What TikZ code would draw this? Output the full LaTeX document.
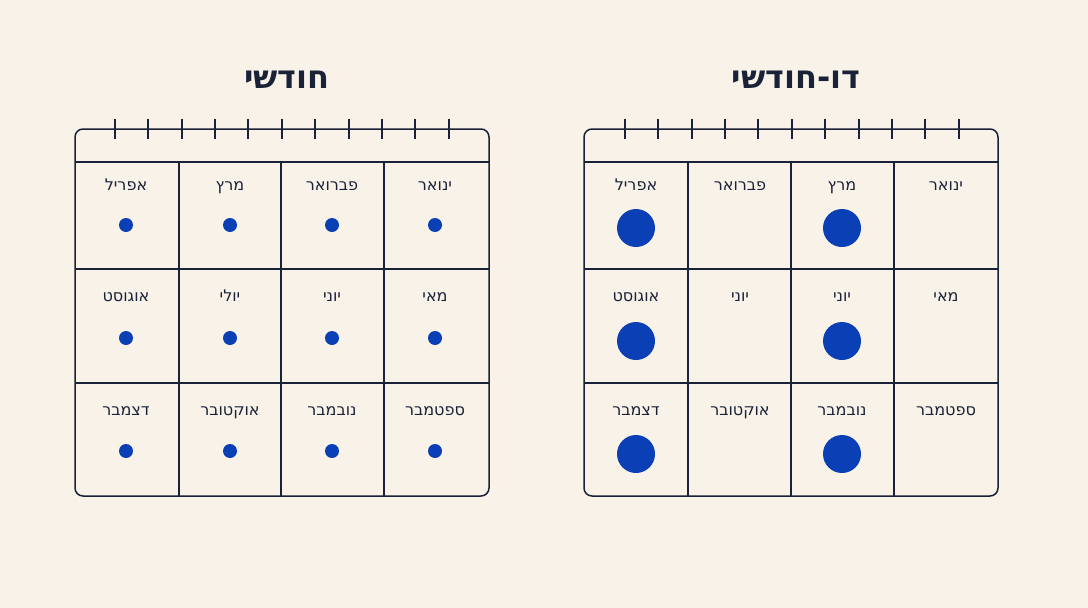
\documentclass[tikz,border=0pt]{standalone}
\usepackage{fontspec}
\setmainfont{DejaVu Sans}
\TeXXeTstate=1
\newcommand{\heb}[1]{\beginR #1\endR}
\definecolor{bgcol}{HTML}{F8F2E9}
\definecolor{ink}{HTML}{1A2238}
\definecolor{dotblue}{HTML}{0A3FB5}
\tikzset{
  month/.style={text=ink, font=\fontsize{16}{19}\selectfont, inner sep=0pt, anchor=base},
  title/.style={text=ink, font=\fontsize{32}{38}\selectfont\bfseries, inner sep=0pt, anchor=base},
  frame/.style={ink, line width=1.5pt, rounded corners=8pt},
  grid/.style={ink, line width=1.2pt},
}
\begin{document}
\begin{tikzpicture}[x=1pt,y=-1pt]
\fill[bgcol] (0,0) rectangle (1088,608);
\useasboundingbox (0,0) rectangle (1088,608);

%titles
\node[title] (tmon) at (287,88) {\heb{חודשי}};
\node[title] (tbim) at (796,88) {\heb{דו-חודשי}};

%left calendar
\draw[frame] (75,129) rectangle (489,496);
\draw[grid] (75,162) -- (489,162);
\draw[grid] (75,269) -- (489,269);
\draw[grid] (75,383) -- (489,383);
\foreach \x in {179,281,384} \draw[grid] (\x,162) -- (\x,496);
\foreach \x in {115,148,182,215,248,282,315,349,382,415,449} \draw[grid,line width=1.5pt] (\x,119) -- (\x,139);

%right calendar
\draw[frame] (584,129) rectangle (998,496);
\draw[grid] (584,162) -- (998,162);
\draw[grid] (584,269) -- (998,269);
\draw[grid] (584,383) -- (998,383);
\foreach \x in {688,791,894} \draw[grid] (\x,162) -- (\x,496);
\foreach \x in {625,658,692,725,758,792,825,859,892,925,959} \draw[grid,line width=1.5pt] (\x,119) -- (\x,139);

%months, left
\foreach \name [count=\i from 0] in {אפריל,מרץ,פברואר,ינואר,אוגוסט,יולי,יוני,מאי,דצמבר,אוקטובר,נובמבר,ספטמבר}{
  \pgfmathtruncatemacro{\c}{mod(\i,4)}
  \pgfmathtruncatemacro{\r}{div(\i,4)}
  \pgfmathsetmacro{\cx}{{126,230,332,435}[\c]}
  \pgfmathsetmacro{\ly}{{190,301,415}[\r]}
  \pgfmathsetmacro{\dy}{{225,338,451}[\r]}
  \node[month] (lm\i) at (\cx,\ly) {\heb{\name}};
  \fill[dotblue] (\cx,\dy) circle (7);
}

%months, right
\foreach \name [count=\i from 0] in {אפריל,פברואר,מרץ,ינואר,אוגוסט,יוני,יוני,מאי,דצמבר,אוקטובר,נובמבר,ספטמבר}{
  \pgfmathtruncatemacro{\c}{mod(\i,4)}
  \pgfmathtruncatemacro{\r}{div(\i,4)}
  \pgfmathsetmacro{\cx}{{636,740,842,946}[\c]}
  \pgfmathsetmacro{\ly}{{190,301,415}[\r]}
  \pgfmathsetmacro{\dy}{{228,341,454}[\r]}
  \node[month] (rm\i) at (\cx,\ly) {\heb{\name}};
  \ifodd\c\else\fill[dotblue] (\cx,\dy) circle (19);\fi
}
\end{tikzpicture}
\end{document}
